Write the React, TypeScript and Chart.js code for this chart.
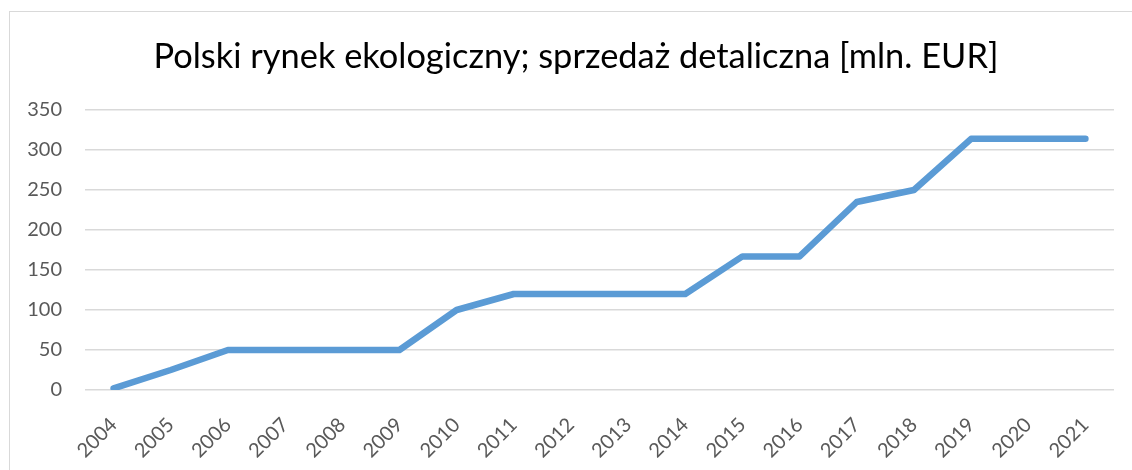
import React, { useEffect, useRef } from "react";
import { Chart, registerables } from "chart.js";

Chart.register(...registerables);

const TITLE = "Polski rynek ekologiczny; sprzedaż detaliczna [mln. EUR]";
const YEARS = ["2004","2005","2006","2007","2008","2009","2010","2011","2012","2013","2014","2015","2016","2017","2018","2019","2020","2021"];
const SALES = [2, 25, 50, 50, 50, 50, 100, 120, 120, 120, 120, 167, 167, 235, 250, 314, 314, 314];
const Y_MIN = 0;
const Y_MAX = 350;
const Y_STEP = 50;

export default function App() {
  const ref = useRef<HTMLCanvasElement | null>(null);

  useEffect(() => {
    if (!ref.current) return;
    const chart = new Chart(ref.current, {
      type: "line",
      data: {
        labels: YEARS,
        datasets: [
          {
            data: SALES,
            borderColor: "#5B9BD5",
            backgroundColor: "#5B9BD5",
            borderWidth: 6.5,
            borderCapStyle: "round",
            borderJoinStyle: "round",
            pointRadius: 0,
            tension: 0,
          },
        ],
      },
      options: {
        responsive: false,
        animation: false,
        layout: { padding: { left: 0, right: 18, top: 110, bottom: 0 } },
        plugins: {
          legend: { display: false },
          tooltip: { enabled: false },
          title: { display: false },
        },
        scales: {
          x: {
            offset: true,
            grid: { display: false, drawTicks: false },
            border: { display: false },
            ticks: {
              color: "#595959",
              font: { family: "Lato", size: 20 },
              minRotation: 45,
              maxRotation: 45,
              autoSkip: false,
              padding: 23,
            },
            afterFit: (s: any) => {
              s.height = 80;
            },
          },
          y: {
            min: Y_MIN,
            max: Y_MAX,
            grid: { color: "#d9d9d9", lineWidth: 1.5, drawTicks: false },
            border: { display: false },
            ticks: {
              stepSize: Y_STEP,
              color: "#595959",
              font: { family: "Lato", size: 20 },
              padding: 23,
            },
            afterFit: (s: any) => {
              s.width = 85;
            },
          },
        },
      },
    });
    return () => chart.destroy();
  }, []);

  return (
    <div style={{ position: "absolute", left: 0, top: 0, width: 1132, height: 470, overflow: "hidden", background: "#fff" }}>
      <div
        style={{
          position: "absolute",
          left: 9,
          top: 11,
          width: 1300,
          height: 700,
          border: "1.5px solid #d9d9d9",
          boxSizing: "border-box",
        }}
      />
      <canvas ref={ref} width={1132} height={470} style={{ position: "absolute", left: 0, top: 0, display: "block" }} />
      <div
        style={{
          position: "absolute",
          left: 0,
          top: 38,
          width: 1152,
          textAlign: "center",
          fontFamily: "Lato",
          fontSize: 34.4,
          lineHeight: 1,
          color: "#000",
          whiteSpace: "nowrap",
        }}
      >
        {TITLE}
      </div>
    </div>
  );
}
